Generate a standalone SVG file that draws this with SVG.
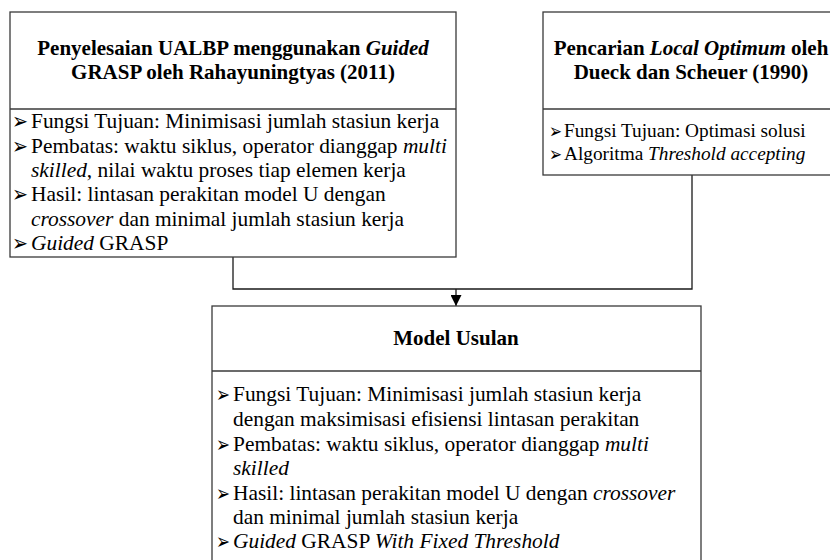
<svg xmlns="http://www.w3.org/2000/svg" width="830" height="560" viewBox="0 0 830 560">
<style>
.box{fill:#fff;stroke:#3a3a3a;stroke-width:1.3}
.div{stroke:#3a3a3a;stroke-width:1.3}
.conn{fill:none;stroke:#1a1a1a;stroke-width:1.3}
.title{font-size:21px;font-weight:bold;text-anchor:middle}
.body{font-size:21.4px}
.bodys{font-size:19.3px}
.i{font-style:italic}
</style>
<defs>
<marker id="ah" viewBox="0 0 11 11" refX="11" refY="5.5" markerWidth="11" markerHeight="11" markerUnits="userSpaceOnUse" orient="auto">
<path d="M0,0 L11,5.5 L0,11 z" fill="#000"/>
</marker>
</defs>

<g id="connectors">
<path class="conn" d="M233,257 V289 H692 V175"/>
<path class="conn" d="M456,289 V306" marker-end="url(#ah)"/>
</g>

<g id="node-rahayuningtyas" font-family="'Liberation Serif', 'DejaVu Serif', serif" fill="#000">
<rect class="box" x="10" y="12" width="446" height="245"/>
<line class="div" x1="10" y1="109" x2="456" y2="109"/>
<text class="title" x="233" y="55">Penyelesaian UALBP menggunakan <tspan class="i">Guided</tspan></text>
<text class="title" x="233" y="79">GRASP oleh Rahayuningtyas (2011)</text>
<g font-family="'DejaVu Sans', sans-serif" font-size="23">
<text x="12" y="129" textLength="16" lengthAdjust="spacingAndGlyphs">➢</text>
<text x="12" y="153.5" textLength="16" lengthAdjust="spacingAndGlyphs">➢</text>
<text x="12" y="202" textLength="16" lengthAdjust="spacingAndGlyphs">➢</text>
<text x="12" y="251" textLength="16" lengthAdjust="spacingAndGlyphs">➢</text>
</g>
<text class="body" x="31" y="128">Fungsi Tujuan: Minimisasi jumlah stasiun kerja</text>
<text class="body" x="31" y="152.5">Pembatas: waktu siklus, operator dianggap <tspan class="i">multi</tspan></text>
<text class="body" x="31" y="177"><tspan class="i">skilled</tspan>, nilai waktu proses tiap elemen kerja</text>
<text class="body" x="31" y="201">Hasil: lintasan perakitan model U dengan</text>
<text class="body" x="31" y="225.5"><tspan class="i">crossover</tspan> dan minimal jumlah stasiun kerja</text>
<text class="body" x="31" y="250"><tspan class="i">Guided</tspan> GRASP</text>
</g>

<g id="node-dueck" font-family="'Liberation Serif', 'DejaVu Serif', serif" fill="#000">
<rect class="box" x="543" y="12" width="300" height="163"/>
<line class="div" x1="543" y1="109" x2="843" y2="109"/>
<text class="title" x="691" y="55">Pencarian <tspan class="i">Local Optimum</tspan> oleh</text>
<text class="title" x="691" y="79">Dueck dan Scheuer (1990)</text>
<g font-family="'DejaVu Sans', sans-serif" font-size="20">
<text x="549" y="138" textLength="13" lengthAdjust="spacingAndGlyphs">➢</text>
<text x="549" y="161" textLength="13" lengthAdjust="spacingAndGlyphs">➢</text>
</g>
<text class="bodys" x="564" y="137">Fungsi Tujuan: Optimasi solusi</text>
<text class="bodys" x="564" y="160">Algoritma <tspan class="i">Threshold accepting</tspan></text>
</g>

<g id="node-model-usulan" font-family="'Liberation Serif', 'DejaVu Serif', serif" fill="#000">
<rect class="box" x="212" y="306" width="489" height="262"/>
<line class="div" x1="212" y1="371" x2="701" y2="371"/>
<text class="title" x="456" y="345">Model Usulan</text>
<g font-family="'DejaVu Sans', sans-serif" font-size="22">
<text x="216" y="402" textLength="14" lengthAdjust="spacingAndGlyphs">➢</text>
<text x="216" y="452" textLength="14" lengthAdjust="spacingAndGlyphs">➢</text>
<text x="216" y="501" textLength="14" lengthAdjust="spacingAndGlyphs">➢</text>
<text x="216" y="549" textLength="14" lengthAdjust="spacingAndGlyphs">➢</text>
</g>
<text class="body" x="233" y="401">Fungsi Tujuan: Minimisasi jumlah stasiun kerja</text>
<text class="body" x="233" y="426">dengan maksimisasi efisiensi lintasan perakitan</text>
<text class="body" x="233" y="451">Pembatas: waktu siklus, operator dianggap <tspan class="i">multi</tspan></text>
<text class="body" x="233" y="475"><tspan class="i">skilled</tspan></text>
<text class="body" x="233" y="500">Hasil: lintasan perakitan model U dengan <tspan class="i">crossover</tspan></text>
<text class="body" x="233" y="524">dan minimal jumlah stasiun kerja</text>
<text class="body" x="233" y="548"><tspan class="i">Guided</tspan> GRASP <tspan class="i">With Fixed Threshold</tspan></text>
</g>
</svg>
